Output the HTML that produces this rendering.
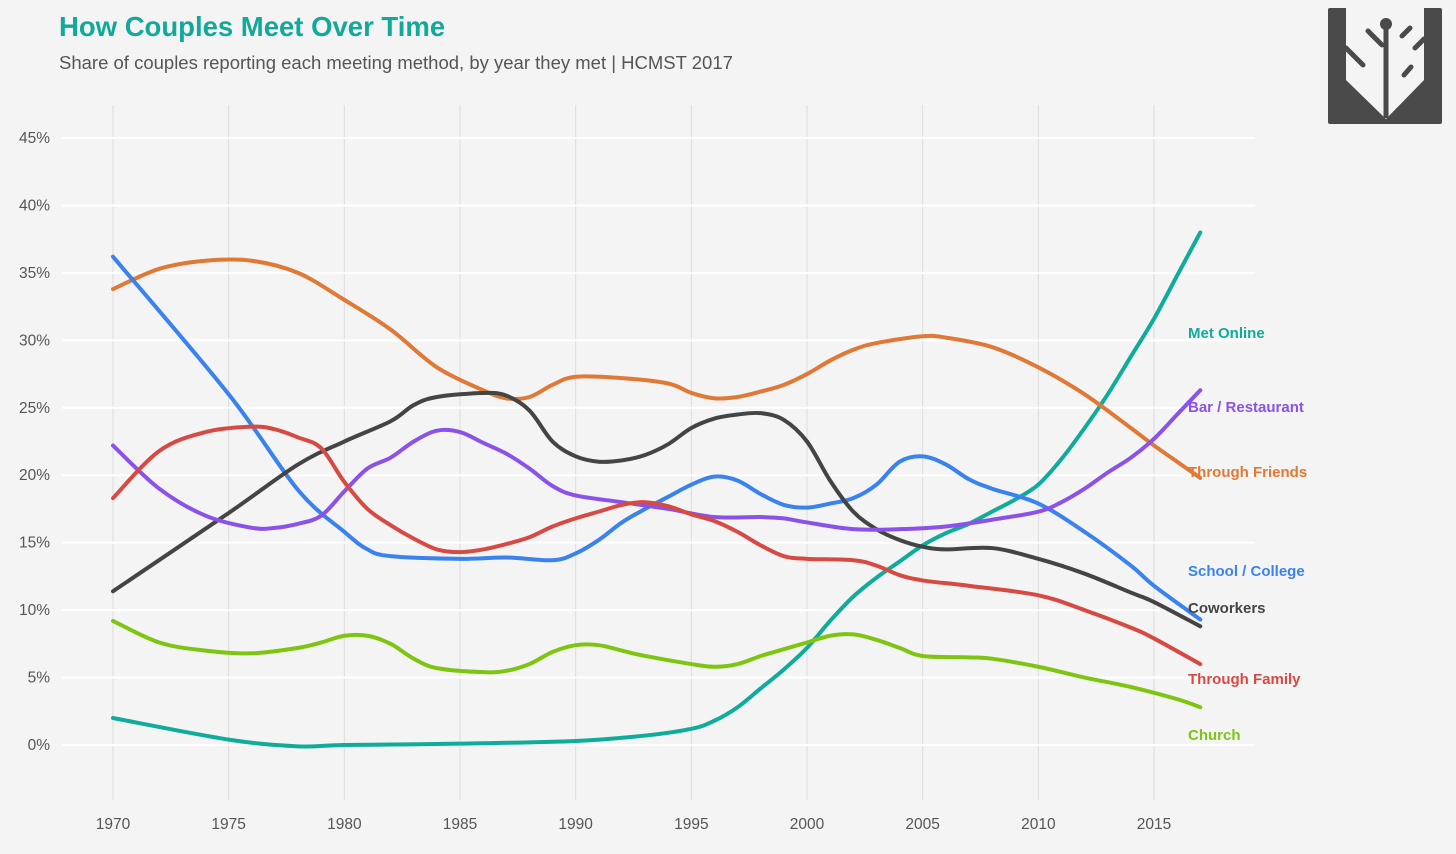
<!DOCTYPE html>
<html><head><meta charset="utf-8"><style>
html,body{margin:0;padding:0;background:#f4f4f4;}
body{width:1456px;height:849px;overflow:hidden;font-family:"Liberation Sans",sans-serif;}
</style></head><body>
<svg id="chart" width="1456" height="849" xmlns="http://www.w3.org/2000/svg" style="font-family:'Liberation Sans',sans-serif">
<rect width="1456" height="849" fill="#f4f4f4"/>
<text x="59" y="36" font-size="27.5" font-weight="bold" fill="#12a89a">How Couples Meet Over Time</text>
<text x="59" y="69" font-size="18.5" fill="#555">Share of couples reporting each meeting method, by year they met | HCMST 2017</text>
<g>
<rect x="1328" y="8" width="114" height="116" rx="2" fill="#4a4a4a"/>
<polygon points="1346,8 1346,80 1386,119 1424,80 1424,8" fill="#f4f4f4"/>
<line x1="1386" y1="24" x2="1386" y2="118" stroke="#4a4a4a" stroke-width="5"/>
<circle cx="1386" cy="24" r="6" fill="#4a4a4a"/>
<line x1="1368" y1="31" x2="1382" y2="45" stroke="#4a4a4a" stroke-width="5" stroke-linecap="round"/>
<line x1="1346" y1="48" x2="1363" y2="65" stroke="#4a4a4a" stroke-width="5" stroke-linecap="round"/>
<line x1="1402" y1="36" x2="1410" y2="28" stroke="#4a4a4a" stroke-width="5" stroke-linecap="round"/>
<line x1="1404" y1="75" x2="1411" y2="67" stroke="#4a4a4a" stroke-width="5" stroke-linecap="round"/>
<line x1="1415" y1="48" x2="1424" y2="39" stroke="#4a4a4a" stroke-width="5" stroke-linecap="round"/>
</g>
<g id="grid"></g><g id="axes"></g><g id="lines"></g><g id="labels"></g>
</svg>
<script>
const years = {
 online:[1970,1975,1978,1980,1985,1990,1993,1995,1996,1997,1998,1999,2000,2001,2002,2003,2004,2005,2006,2007,2008,2009,2010,2011,2012,2013,2014,2015,2016,2017],
 friends:[1970,1972,1974,1976,1978,1980,1982,1984,1986,1987,1988,1989,1990,1992,1994,1995,1996,1997,1998,1999,2000,2001,2002,2003,2005,2006,2008,2010,2012,2014,2015,2016,2017],
 school:[1970,1975,1978,1980,1981,1982,1985,1987,1989,1990,1991,1992,1993,1994,1995,1996,1997,1998,1999,2000,2001,2002,2003,2004,2005,2006,2007,2008,2010,2012,2014,2015,2017],
 cowork:[1970,1975,1978,1980,1982,1983,1984,1986,1987,1988,1989,1990,1991,1992,1993,1994,1995,1996,1997,1998,1999,2000,2001,2002,2003,2004,2005,2006,2008,2010,2012,2014,2015,2017],
 bar:[1970,1972,1974,1976,1977,1978,1979,1980,1981,1982,1983,1984,1985,1986,1987,1988,1989,1990,1992,1994,1996,1998,1999,2000,2002,2004,2006,2008,2010,2011,2012,2013,2014,2015,2016,2017],
 family:[1970,1972,1974,1976,1977,1978,1979,1980,1981,1982,1983,1984,1985,1986,1987,1988,1989,1990,1991,1992,1993,1994,1995,1996,1997,1998,1999,2000,2002,2003,2004,2005,2007,2010,2012,2014,2015,2017],
 church:[1970,1972,1974,1976,1978,1979,1980,1981,1982,1983,1984,1986,1987,1988,1989,1990,1991,1992,1993,1995,1996,1997,1998,1999,2000,2001,2002,2003,2004,2005,2007,2008,2010,2012,2014,2016,2017]
};
const metOnline=[2.0,0.4,-0.1,0,0.1,0.3,0.7,1.2,1.8,2.8,4.2,5.6,7.2,9.2,11.0,12.4,13.6,14.8,15.7,16.4,17.3,18.2,19.3,21.2,23.5,26.0,28.8,31.6,34.8,38.0];
const throughFriends=[33.8,35.3,35.9,35.9,35.0,33.0,30.8,28.0,26.3,25.7,25.8,26.7,27.3,27.2,26.8,26.1,25.7,25.8,26.2,26.7,27.5,28.5,29.3,29.8,30.3,30.2,29.5,28.0,26.0,23.5,22.2,21.0,19.8];
const schoolCollege=[36.2,26.0,18.9,15.8,14.5,14.0,13.8,13.9,13.7,14.2,15.2,16.5,17.5,18.4,19.3,19.9,19.6,18.6,17.8,17.6,17.9,18.3,19.3,21.0,21.4,20.8,19.7,19.0,17.9,15.8,13.3,11.8,9.3];
const coworkers=[11.4,17.2,20.8,22.5,24.0,25.2,25.8,26.1,25.9,24.8,22.5,21.4,21.0,21.1,21.5,22.3,23.5,24.2,24.5,24.6,24.1,22.5,19.6,17.3,16.0,15.2,14.7,14.5,14.6,13.8,12.7,11.3,10.6,8.8];
const barRestaurant=[22.2,19.0,17.0,16.1,16.1,16.4,17.0,18.8,20.5,21.3,22.5,23.3,23.2,22.4,21.6,20.5,19.2,18.5,18.0,17.5,16.9,16.9,16.8,16.5,16.0,16.0,16.2,16.7,17.3,18.0,19.0,20.2,21.3,22.7,24.5,26.3];
const throughFamily=[18.3,21.8,23.2,23.6,23.4,22.8,22.0,19.5,17.5,16.3,15.3,14.5,14.3,14.5,14.9,15.4,16.2,16.8,17.3,17.8,18.0,17.7,17.1,16.6,15.8,14.8,14.0,13.8,13.7,13.3,12.6,12.2,11.8,11.1,10.0,8.7,7.9,6.0];
const church=[9.2,7.6,7.0,6.8,7.2,7.6,8.1,8.1,7.5,6.4,5.7,5.4,5.5,6.0,6.9,7.4,7.4,7.0,6.6,6.0,5.8,6.0,6.6,7.1,7.6,8.1,8.2,7.8,7.2,6.6,6.5,6.4,5.8,5.0,4.3,3.4,2.8];
const yTicks=[0,5,10,15,20,25,30,35,40,45];
const xTicks=[1970,1975,1980,1985,1990,1995,2000,2005,2010,2015];
const series=[
 {key:'online',vals:metOnline,label:'Met Online',color:'#0fab9b',ly:333},
 {key:'friends',vals:throughFriends,label:'Through Friends',color:'#e07836',ly:472},
 {key:'school',vals:schoolCollege,label:'School / College',color:'#3a82ee',ly:571},
 {key:'cowork',vals:coworkers,label:'Coworkers',color:'#444444',ly:608},
 {key:'bar',vals:barRestaurant,label:'Bar / Restaurant',color:'#8a52ea',ly:407},
 {key:'family',vals:throughFamily,label:'Through Family',color:'#d64a43',ly:679},
 {key:'church',vals:church,label:'Church',color:'#7ec512',ly:735}
];
const X=y=>113+(y-1970)*(1154-113)/45;
const Y=v=>745-v*(745-138)/45;
const NS='http://www.w3.org/2000/svg';
function mk(tag,attrs,parent){const e=document.createElementNS(NS,tag);for(const k in attrs)e.setAttribute(k,attrs[k]);parent.appendChild(e);return e;}
const grid=document.getElementById('grid'),axes=document.getElementById('axes'),lines=document.getElementById('lines'),labels=document.getElementById('labels');
xTicks.forEach(t=>{
 const l=mk('line',{x1:X(t),x2:X(t),y1:105,y2:800,stroke:'#dcdcdc','stroke-width':1},grid);
 
 
 const tx=mk('text',{x:X(t),y:829,'text-anchor':'middle','font-size':15.5,fill:'#555'},axes);
 tx.textContent=t;
 
 
});
yTicks.forEach(t=>{
 const l=mk('line',{x1:62,x2:1255,y1:Y(t),y2:Y(t),stroke:'#ffffff','stroke-width':2},grid);
 
 
 const tx=mk('text',{x:50,y:Y(t)+5,'text-anchor':'end','font-size':15.5,fill:'#555'},axes);
 tx.textContent=t+'%';
 
 
});
function path(pts){
 let d='M'+pts[0][0]+','+pts[0][1];
 for(let i=0;i<pts.length-1;i++){
  const p0=pts[Math.max(0,i-1)],p1=pts[i],p2=pts[i+1],p3=pts[Math.min(pts.length-1,i+2)];
  const c1=[p1[0]+(p2[0]-p0[0])/6,p1[1]+(p2[1]-p0[1])/6];
  const c2=[p2[0]-(p3[0]-p1[0])/6,p2[1]-(p3[1]-p1[1])/6];
  d+=' C'+c1[0]+','+c1[1]+' '+c2[0]+','+c2[1]+' '+p2[0]+','+p2[1];
 }
 return d;
}
series.forEach(s=>{
 const pts=years[s.key].map((yr,i)=>[X(yr),Y(s.vals[i])]);
 const p=mk('path',{d:path(pts),fill:'none',stroke:s.color,'stroke-width':4,'stroke-linejoin':'round','stroke-linecap':'round'},lines);
 
 
 const t=mk('text',{x:1188,y:s.ly+5,'font-size':15,'font-weight':'bold',fill:s.color},labels);
 t.textContent=s.label;
 
 
});
</script>
</body></html>
